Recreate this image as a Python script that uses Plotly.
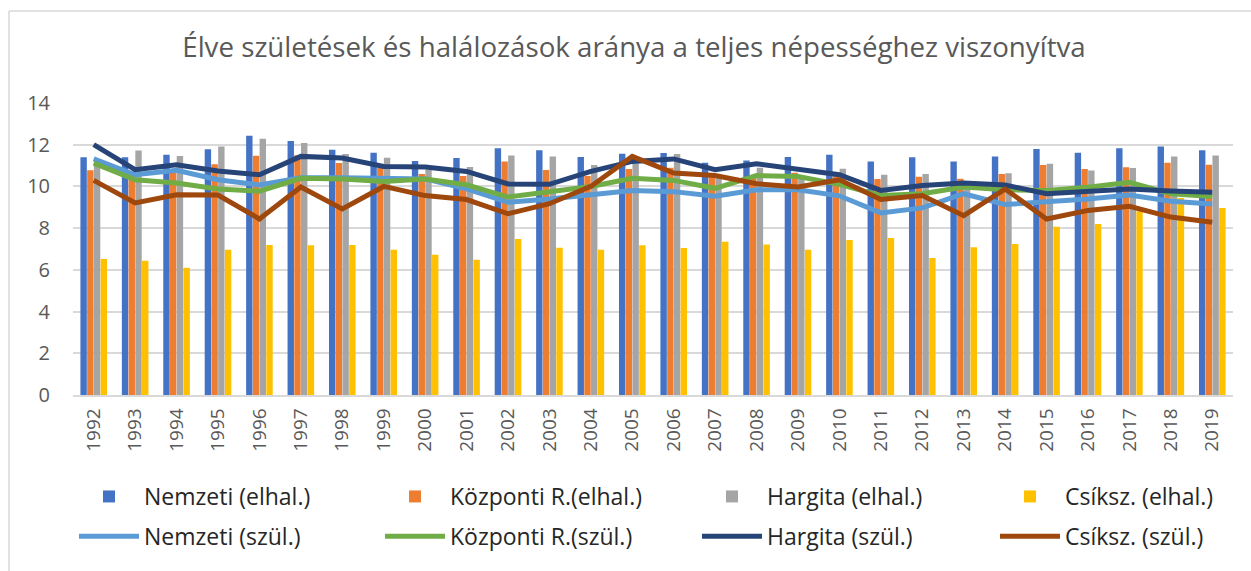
import plotly.graph_objects as go

years = [str(y) for y in range(1992, 2020)]

nemzeti_elhal = [11.40, 11.40, 11.52, 11.78, 12.43, 12.18, 11.76, 11.62, 11.22, 11.36,
                 11.83, 11.73, 11.41, 11.57, 11.60, 11.14, 11.24, 11.41, 11.52, 11.19,
                 11.40, 11.19, 11.44, 11.79, 11.62, 11.83, 11.91, 11.73]
kozponti_elhal = [10.77, 10.72, 10.80, 11.06, 11.47, 11.50, 11.12, 10.90, 10.60, 10.50,
                  11.19, 10.79, 10.50, 10.84, 10.90, 10.60, 10.50, 10.65, 10.65, 10.36,
                  10.47, 10.37, 10.60, 11.03, 10.84, 10.92, 11.14, 11.04]
hargita_elhal = [11.10, 11.72, 11.46, 11.91, 12.29, 12.08, 11.56, 11.38, 10.80, 10.93,
                 11.48, 11.43, 11.03, 11.10, 11.55, 10.40, 10.90, 10.40, 10.85, 10.56,
                 10.60, 10.00, 10.63, 11.09, 10.76, 10.88, 11.43, 11.48]
csik_elhal = [6.52, 6.44, 6.10, 6.97, 7.19, 7.18, 7.19, 6.97, 6.73, 6.49,
              7.48, 7.06, 6.97, 7.18, 7.05, 7.35, 7.21, 6.97, 7.43, 7.53,
              6.57, 7.08, 7.24, 8.07, 8.20, 8.81, 9.45, 8.97]

nemzeti_szul = [11.32, 10.56, 10.77, 10.32, 10.07, 10.42, 10.42, 10.36, 10.36, 9.88,
                9.24, 9.40, 9.60, 9.81, 9.75, 9.53, 9.84, 9.84, 9.55, 8.73,
                8.97, 9.65, 9.13, 9.24, 9.40, 9.59, 9.29, 9.16]
kozponti_szul = [11.12, 10.32, 10.16, 9.88, 9.77, 10.39, 10.36, 10.24, 10.36, 10.08,
                 9.49, 9.72, 10.00, 10.39, 10.29, 9.91, 10.52, 10.48, 10.10, 9.56,
                 9.65, 9.97, 9.84, 9.81, 9.96, 10.20, 9.65, 9.52]
hargita_szul = [12.00, 10.80, 11.04, 10.74, 10.56, 11.44, 11.36, 10.96, 10.93, 10.72,
                10.12, 10.10, 10.72, 11.20, 11.32, 10.80, 11.09, 10.85, 10.56, 9.81,
                10.04, 10.16, 10.07, 9.65, 9.76, 9.88, 9.78, 9.72]
csik_szul = [10.29, 9.21, 9.60, 9.59, 8.44, 9.97, 8.92, 10.00, 9.56, 9.37,
             8.69, 9.17, 10.00, 11.44, 10.64, 10.52, 10.13, 9.97, 10.32, 9.37,
             9.56, 8.60, 9.88, 8.44, 8.85, 9.05, 8.53, 8.28]

bar_names = ["Nemzeti (elhal.)", "Központi R.(elhal.)", "Hargita (elhal.)", "Csíksz. (elhal.)"]
bar_colors = ["#4472C4", "#ED7D31", "#A5A5A5", "#FFC000"]
bar_data = [nemzeti_elhal, kozponti_elhal, hargita_elhal, csik_elhal]

line_names = ["Nemzeti (szül.)", "Központi R.(szül.)", "Hargita (szül.)", "Csíksz. (szül.)"]
line_colors = ["#5B9BD5", "#70AD47", "#264478", "#9E480E"]
line_data = [nemzeti_szul, kozponti_szul, hargita_szul, csik_szul]

FONT = "Open Sans, Liberation Sans, sans-serif"
W, H = 1251, 571
legend_ids = ["legend", "legend2", "legend3", "legend4"]
legend_text_x = [144, 450, 767, 1065]

fig = go.Figure()
for i, (name, col, vals) in enumerate(zip(bar_names, bar_colors, bar_data)):
    fig.add_trace(go.Bar(x=years, y=vals, name=name, marker_color=col,
                         marker_line_width=0, legend=legend_ids[i], legendgroup=name))
for i, (name, col, vals) in enumerate(zip(line_names, line_colors, line_data)):
    fig.add_trace(go.Scatter(x=years, y=vals, name=name, mode="lines",
                             line=dict(color=col, width=5), legend=legend_ids[i],
                             legendgroup=name))

legend_common = dict(orientation="v", xref="container", yref="container",
                     xanchor="left", yanchor="top", y=1 - 475 / H,
                     itemwidth=60, tracegroupgap=7,
                     font=dict(family=FONT, size=23, color="#262626"),
                     bgcolor="rgba(0,0,0,0)")

layout_legends = {}
for lid, tx in zip(legend_ids, legend_text_x):
    layout_legends[lid] = dict(legend_common, x=(tx - 70) / W)

fig.update_layout(
    width=W, height=H,
    margin=dict(l=73, r=18, t=103, b=176, autoexpand=False),
    paper_bgcolor="white", plot_bgcolor="white",
    barmode="group", bargap=0.35, bargroupgap=0.05,
    font=dict(family=FONT, color="#595959"),
    title=dict(text="Élve születések és halálozások aránya a teljes népességhez viszonyítva",
               font=dict(family=FONT, size=27.7, color="#595959"),
               x=634 / W, xref="container", xanchor="center",
               y=1 - 47 / H, yref="container", yanchor="middle"),
    xaxis=dict(type="category", tickangle=-90, tickfont=dict(size=19, color="#595959"),
               showgrid=False, showline=True, linecolor="#d9d9d9", linewidth=1.5,
               ticks="", ticklabelstandoff=4),
    yaxis=dict(range=[0, 14], dtick=2, tickfont=dict(size=20, color="#595959"),
               showgrid=True, gridcolor="#d9d9d9", gridwidth=1.5, zeroline=False,
               showline=False, ticks="", ticklabelstandoff=22),
    **layout_legends,
)

# chart frame (top and left border lines)
fig.update_layout(shapes=[
    dict(type="line", xref="paper", yref="paper", x0=(9 - 73) / 1160, x1=(1251 - 73) / 1160,
         y0=1 + (103 - 11) / 292, y1=1 + (103 - 11) / 292,
         line=dict(color="#d9d9d9", width=1.5)),
    dict(type="line", xref="paper", yref="paper", x0=(9 - 73) / 1160, x1=(9 - 73) / 1160,
         y0=1 + (103 - 11) / 292, y1=-(571 - 395) / 292,
         line=dict(color="#d9d9d9", width=1.5)),
])

fig.write_html("out.html", config={"displayModeBar": False},
               post_script="document.body.style.margin='0';document.body.style.overflow='hidden';")
